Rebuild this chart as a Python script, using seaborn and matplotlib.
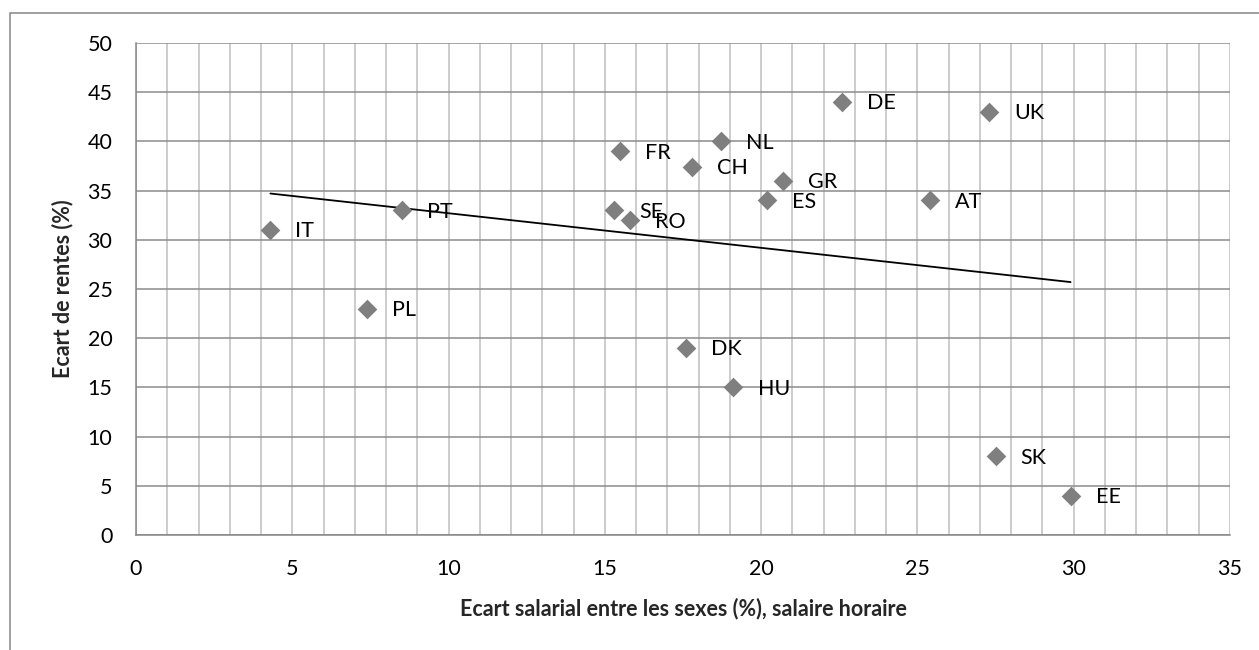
import numpy as np
import pandas as pd
import matplotlib
matplotlib.use("Agg")
import matplotlib.pyplot as plt
from matplotlib.patches import Rectangle
from matplotlib.ticker import MultipleLocator
import seaborn as sns

# Data
countries = ["IT", "PT", "PL", "SE", "RO", "FR", "CH", "NL", "DK", "HU",
             "DE", "UK", "GR", "ES", "AT", "SK", "EE"]
pay_gap = [4.3, 8.5, 7.4, 15.3, 15.8, 15.5, 17.8, 18.7, 17.6, 19.1,
           22.6, 27.3, 20.7, 20.2, 25.4, 27.5, 29.9]
pension_gap = [31, 33, 23, 33, 32, 39, 37.4, 40, 19, 15,
               44, 43, 36, 34, 34, 8, 4]

df = pd.DataFrame({"pays": countries, "salaire": pay_gap, "rente": pension_gap})

sns.set_theme(style="white")
plt.rcParams["font.family"] = ["Lato", "DejaVu Sans"]
fs = 15.5

fig = plt.figure(figsize=(12.59, 6.5), dpi=100)
ax = fig.add_axes([136 / 1259, 1 - 535 / 650, (1230 - 136) / 1259, (535 - 43) / 650])

# scatter + linear trend line (fitted on the data)
sns.regplot(data=df, x="salaire", y="rente", ax=ax, ci=None, truncate=True,
            marker="D",
            scatter_kws=dict(color="#7f7f7f", s=100, linewidths=0, alpha=1, zorder=3),
            line_kws=dict(color="black", lw=1.3, zorder=2))

for _, r in df.iterrows():
    ax.annotate(r["pays"], (r["salaire"], r["rente"]), xytext=(18, -1),
                textcoords="offset points", ha="left", va="center",
                fontsize=fs, color="black")

ax.set_xlim(0, 35)
ax.set_ylim(0, 50)
ax.xaxis.set_major_locator(MultipleLocator(5))
ax.xaxis.set_minor_locator(MultipleLocator(1))
ax.yaxis.set_major_locator(MultipleLocator(5))

ax.grid(False)
ax.grid(axis="x", which="both", color="#bfbfbf", lw=1.1, zorder=0)
ax.grid(axis="y", which="major", color="#8c8c8c", lw=1.1, zorder=0)
ax.set_axisbelow(True)

for s in ["top", "right"]:
    ax.spines[s].set_visible(False)
for s in ["left", "bottom"]:
    ax.spines[s].set_color("#868686")
    ax.spines[s].set_linewidth(1.1)

ax.tick_params(axis="both", which="major", direction="out", length=6, width=1.1,
               color="#868686", labelsize=fs, labelcolor="black")
ax.tick_params(axis="x", which="minor", length=0)
ax.tick_params(axis="x", pad=11)
ax.tick_params(axis="y", pad=11)

ax.set_xlabel("Ecart salarial entre les sexes (%), salaire horaire",
              fontsize=fs, fontweight="bold", labelpad=14)
ax.set_ylabel("Ecart de rentes (%)", fontsize=fs, fontweight="bold", labelpad=10)

# outer chart frame
fig.add_artist(Rectangle((10 / 1259, -0.1), 1.2, 1 - 13 / 650 + 0.1,
                         transform=fig.transFigure, fill=False,
                         ec="#868686", lw=1.1))

fig.savefig("out.png", dpi=100)
